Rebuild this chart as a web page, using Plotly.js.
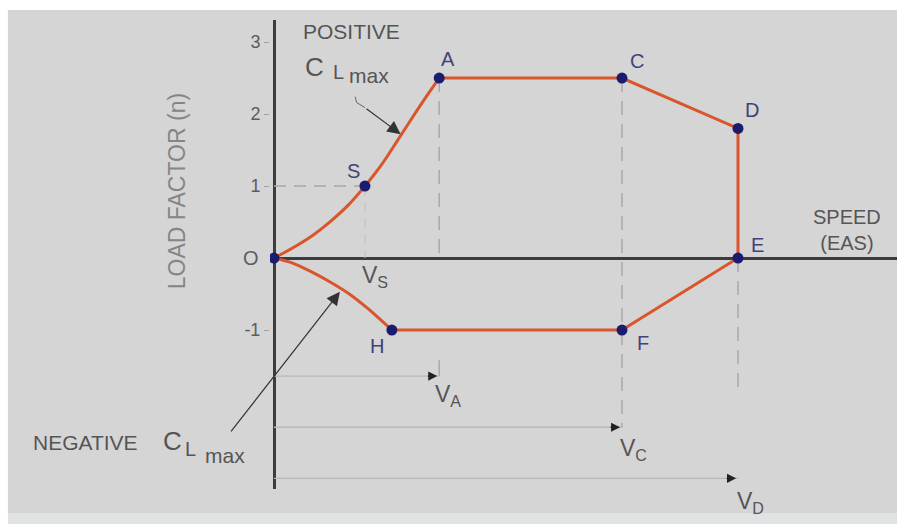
<!DOCTYPE html>
<html>
  <head>
    <title>V-n diagram</title>
    <meta http-equiv="content-type" content="text/html; charset=utf-8" />
    <style>
      body {
        margin: 0;
        background-color: #FFFFFF;
      }

      #vn {
        width: 897px;
        height: 524px;
      }
    </style>
    <script src="https://cdn.plot.ly/plotly-3.0.1.min.js"></script>
  </head>
  <body>
    <div id="vn"></div>
    <script>
      // speed (EAS) in % of V_D, load factor n
      var pointNames = ['O', 'S', 'A', 'C', 'D', 'E', 'F', 'H'];
      var pointSpeed = [0, 19.6, 35.6, 75, 100, 100, 75, 25.4];
      var pointLoad = [0, 1, 2.5, 2.5, 1.8, 0, -1, -1];

      // stall curves
      var posStallSpeed = [0, 4, 8, 12, 16, 19.6, 23, 26.5, 30, 33, 35.6];
      var posStallLoad = [0, 0.14, 0.3, 0.5, 0.735, 1, 1.28, 1.62, 1.97, 2.26, 2.5];
      var negStallSpeed = [0, 4, 8, 12, 16, 20, 23, 25.4];
      var negStallLoad = [0, -0.07, -0.19, -0.33, -0.49, -0.69, -0.86, -1];

      // straight edges A-C-D-E-F-H
      var limitSpeed = [35.6, 75, 100, 100, 75, 25.4];
      var limitLoad = [2.5, 2.5, 1.8, 0, -1, -1];

      var loadTicks = [3, 2, 1, -1];

      var speedNames = ['V<sub>A</sub>', 'V<sub>C</sub>', 'V<sub>D</sub>'];
      var speedMarks = [35.6, 75, 100];
      var speedArrowLoad = [-1.64, -2.35, -3.06];
      // where the dashed drop lines of A, C and E stop
      var dropTop = [2.5, 2.5, 0];
      var dropEnd = [0, -2.35, -1.9];
      var stubA = [-1.42, -1.64];

      // leader lines of the two C_L max notes
      var posNoteSpeed = [17.5, 17.8, 19.6];
      var posNoteLoad = [2.24, 2.16, 2.09];
      var posNoteTip = [27.3, 1.72];
      var negNoteTip = [14.2, -0.47];

      // label offsets in pixels (right, up)
      var labelDx = [-23, -11, 9, 15, 14, 20, 21, -15];
      var labelDy = [0, 15, 19, 17, 18, 13, -13, -16];

      var font = '"Liberation Sans", Arial, sans-serif';
      var grey = '#a9a9a9';

      function guide(x, y, color, width, dash) {
        return {
          x: x,
          y: y,
          mode: 'lines',
          type: 'scatter',
          hoverinfo: 'skip',
          line: {color: color, width: width, dash: dash}
        };
      }

      function note(x, y, text, size, color, extra) {
        var n = {x: x, y: y, text: text, showarrow: false,
          xanchor: 'center', yanchor: 'middle', font: {size: size, color: color}};
        for (var k in extra) {
          n[k] = extra[k];
        }
        return n;
      }

      var sets = [];
      var i;

      sets.push(guide([0, pointSpeed[1]], [pointLoad[1], pointLoad[1]], grey, 1.5, '12px,8px'));
      sets.push(guide([pointSpeed[1], pointSpeed[1]], [pointLoad[1], 0], '#c0c0c0', 1, '10px,6px'));
      for (i=0;i<speedMarks.length;i++) {
        sets.push(guide([speedMarks[i], speedMarks[i]], [dropTop[i], dropEnd[i]], grey, 1.5, '14px,9px'));
      }
      sets.push(guide([speedMarks[0], speedMarks[0]], stubA, grey, 1.5, 'solid'));
      for (i=0;i<speedMarks.length;i++) {
        sets.push(guide([0, speedMarks[i]], [speedArrowLoad[i], speedArrowLoad[i]], '#b9b9b9', 1.3, 'solid'));
      }
      sets.push(guide(posNoteSpeed, posNoteLoad, '#666666', 1, 'solid'));

      sets.push({
        x: posStallSpeed,
        y: posStallLoad,
        mode: 'lines',
        type: 'scatter',
        line: {color: '#D9552B', width: 3, shape: 'spline', smoothing: 1}
      });
      sets.push({
        x: negStallSpeed,
        y: negStallLoad,
        mode: 'lines',
        type: 'scatter',
        line: {color: '#D9552B', width: 3, shape: 'spline', smoothing: 1}
      });
      sets.push({
        x: limitSpeed,
        y: limitLoad,
        mode: 'lines',
        type: 'scatter',
        line: {color: '#D9552B', width: 3}
      });
      sets.push({
        x: pointSpeed,
        y: pointLoad,
        text: pointNames,
        mode: 'markers',
        type: 'scatter',
        marker: {color: '#1C1C6E', size: 11}
      });

      var notes = [];
      for (i=0;i<pointNames.length;i++) {
        notes.push(note(pointSpeed[i], pointLoad[i], pointNames[i], 20,
          pointNames[i] == 'O' ? '#5E5E5E' : '#42427A',
          {xshift: labelDx[i], yshift: labelDy[i]}));
      }

      var vOffsets = [[9, -19], [12, -22], [13, -24]];
      for (i=0;i<speedMarks.length;i++) {
        notes.push(note(speedMarks[i], speedArrowLoad[i], speedNames[i], 23, '#555555',
          {xshift: vOffsets[i][0], yshift: vOffsets[i][1]}));
        notes.push({
          x: speedMarks[i] - 0.4,
          y: speedArrowLoad[i],
          text: '',
          showarrow: true,
          arrowhead: 2,
          arrowsize: 1.3,
          arrowwidth: 1.4,
          arrowcolor: '#222222',
          ax: -11,
          ay: 0
        });
      }
      notes.push(note(pointSpeed[1], 0, 'V<sub>S</sub>', 23, '#555555', {xshift: 10, yshift: -18}));

      // C_L max notes
      notes.push({x: posNoteTip[0], y: posNoteTip[1], text: '', showarrow: true,
        arrowhead: 2, arrowsize: 2.2, arrowwidth: 1.2, arrowcolor: '#333333',
        axref: 'x', ayref: 'y', ax: posNoteSpeed[2], ay: posNoteLoad[2]});
      notes.push({x: negNoteTip[0], y: negNoteTip[1], text: '', showarrow: true,
        arrowhead: 2, arrowsize: 2.2, arrowwidth: 1.2, arrowcolor: '#333333',
        ax: -110, ay: 141});

      notes.push(note(16.6, 3.15, 'POSITIVE', 21, '#555555'));
      notes.push(note(8.8, 2.65, 'C', 26, '#555555'));
      notes.push(note(13.8, 2.58, 'L', 20, '#555555'));
      notes.push(note(20.5, 2.53, 'max', 21, '#555555'));

      notes.push(note(-0.295, -2.56, 'NEGATIVE', 21, '#555555', {xref: 'paper'}));
      notes.push(note(-0.155, -2.54, 'C', 26, '#555555', {xref: 'paper'}));
      notes.push(note(-0.126, -2.65, 'L', 20, '#555555', {xref: 'paper'}));
      notes.push(note(-0.072, -2.74, 'max', 21, '#555555', {xref: 'paper'}));

      notes.push(note(123.5, 0.39, 'SPEED<br>(EAS)', 20, '#555555'));
      notes.push(note(-0.148, 0.93, 'LOAD FACTOR (n)', 23, '#858585', {xref: 'paper', textangle: -90}));

      var options = {
        width: 897,
        height: 524,
        margin: {l: 270, r: 0, t: 20, b: 35},
        paper_bgcolor: '#FFFFFF',
        plot_bgcolor: 'rgba(0,0,0,0)',
        showlegend: false,
        font: {family: font, color: '#555555'},
        xaxis: {
          range: [-0.862, 134.27],
          showgrid: false,
          showticklabels: false,
          ticks: '',
          zeroline: true,
          zerolinecolor: '#3C3C3C',
          zerolinewidth: 3,
          fixedrange: true
        },
        yaxis: {
          range: [-3.208, 3.306],
          tickvals: loadTicks,
          ticktext: loadTicks.map(String),
          ticks: 'outside',
          ticklen: 5,
          tickcolor: '#A0A0A0',
          tickfont: {size: 18, color: '#5C5C5C'},
          showgrid: false,
          zeroline: true,
          zerolinecolor: '#3C3C3C',
          zerolinewidth: 3,
          fixedrange: true
        },
        shapes: [
          {type: 'rect', xref: 'paper', yref: 'paper', x0: -0.418, x1: 1, y0: -0.0512, y1: 1.0213,
            fillcolor: '#D5D5D5', line: {width: 0}, layer: 'below'},
          {type: 'rect', xref: 'paper', yref: 'paper', x0: -0.418, x1: 1, y0: -0.0746, y1: -0.0512,
            fillcolor: '#DFE3E3', line: {width: 0}, layer: 'below'}
        ],
        annotations: notes
      };

      Plotly.newPlot('vn', sets, options, {displayModeBar: false, staticPlot: true});
    </script>
  </body>
</html>
